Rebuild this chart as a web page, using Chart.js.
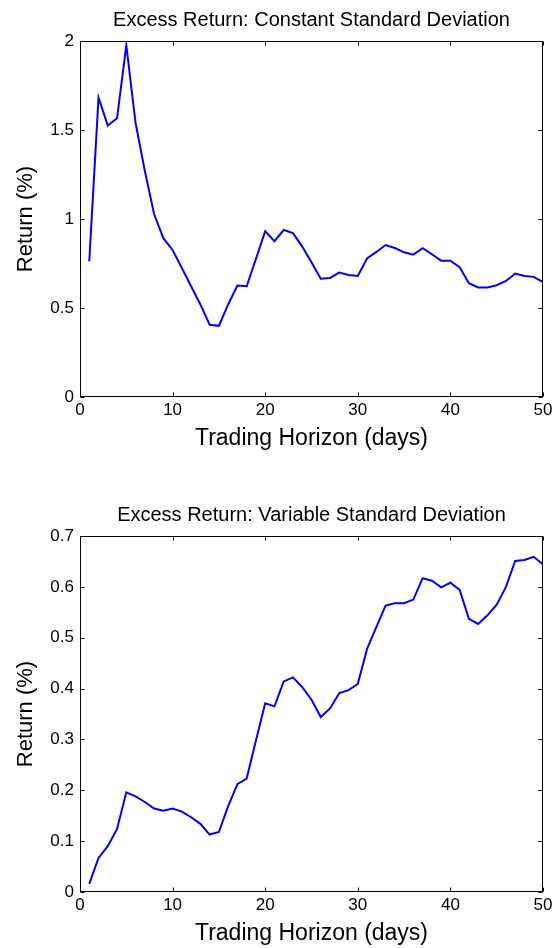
<!DOCTYPE html>
<html>
<head>
<meta charset="utf-8">
<script src="https://cdn.jsdelivr.net/npm/chart.js@4.4.1/dist/chart.umd.min.js"></script>
<style>
  html, body { margin: 0; padding: 0; background: #ffffff; }
  body { width: 556px; height: 948px; position: relative; overflow: hidden; }
  .box { position: absolute; left: 0; width: 556px; height: 453px; }
  #box1 { top: 0; }
  #box2 { top: 495px; }
</style>
</head>
<body>
<div class="box" id="box1"><canvas id="c1"></canvas></div>
<div class="box" id="box2"><canvas id="c2"></canvas></div>
<script>
// ---- data ----
const horizonDays = [1,2,3,4,5,6,7,8,9,10,11,12,13,14,15,16,17,18,19,20,21,22,23,24,25,
                     26,27,28,29,30,31,32,33,34,35,36,37,38,39,40,41,42,43,44,45,46,47,48,49,50];
const constantSD = [0.763,1.682,1.525,1.566,1.976,1.540,1.271,1.028,0.892,0.826,
                    0.725,0.622,0.520,0.406,0.400,0.520,0.626,0.622,0.776,0.931,
                    0.875,0.938,0.921,0.845,0.757,0.664,0.669,0.699,0.686,0.680,
                    0.778,0.815,0.854,0.837,0.813,0.800,0.836,0.802,0.766,0.766,
                    0.729,0.639,0.615,0.615,0.628,0.652,0.693,0.680,0.675,0.645];
const variableSD = [0.016,0.067,0.090,0.124,0.196,0.188,0.177,0.164,0.160,0.164,
                    0.158,0.147,0.134,0.113,0.118,0.169,0.212,0.223,0.298,0.371,
                    0.365,0.414,0.422,0.403,0.378,0.344,0.361,0.391,0.397,0.409,
                    0.478,0.521,0.563,0.568,0.568,0.575,0.617,0.612,0.599,0.608,
                    0.594,0.537,0.527,0.544,0.565,0.600,0.651,0.653,0.659,0.644];
const xTickValues = [0,10,20,30,40,50];
const yTicksTop = [0,0.5,1,1.5,2];
const yTicksBottom = [0,0.1,0.2,0.3,0.4,0.5,0.6,0.7];
const titleTop = 'Excess Return: Constant Standard Deviation';
const titleBottom = 'Excess Return: Variable Standard Deviation';
const xLabel = 'Trading Horizon (days)';
const yLabel = 'Return (%)';

// ---- drawing ----
const FONT = "'Liberation Sans', Arial, Helvetica, sans-serif";

const framePlugin = {
  id: 'frame',
  afterDatasetsDraw(chart) {
    const ctx = chart.ctx;
    const a = chart.chartArea;
    const xs = chart.scales.x, ys = chart.scales.y;
    ctx.save();
    ctx.strokeStyle = '#000000';
    ctx.lineWidth = 1;
    const L = Math.round(a.left) + 0.5, R = Math.round(a.right) - 0.5;
    const T = Math.round(a.top) + 0.5, B = Math.round(a.bottom) - 0.5;
    ctx.beginPath();
    xs.ticks.forEach(t => {
      const px = Math.round(xs.getPixelForValue(t.value)) + 0.5;
      ctx.moveTo(px, B); ctx.lineTo(px, B - 4);
      ctx.moveTo(px, T); ctx.lineTo(px, T + 4);
    });
    ys.ticks.forEach(t => {
      const py = Math.round(ys.getPixelForValue(t.value)) + 0.5;
      ctx.moveTo(L, py); ctx.lineTo(L + 4, py);
      ctx.moveTo(R, py); ctx.lineTo(R - 4, py);
    });
    ctx.stroke();
    ctx.strokeRect(L, T, R - L, B - T);
    ctx.restore();
  }
};

function makeChart(id, title, values, yTicks) {
  const points = horizonDays.map((d, i) => ({x: d, y: values[i]}));
  return new Chart(document.getElementById(id), {
    type: 'line',
    data: {
      datasets: [{
        data: points,
        borderColor: '#0000ff',
        borderWidth: 2,
        pointRadius: 0,
        tension: 0,
        fill: false
      }]
    },
    options: {
      responsive: true,
      maintainAspectRatio: false,
      animation: false,
      devicePixelRatio: 1,
      layout: { padding: { left: 0, right: 13, top: 0, bottom: 0 } },
      plugins: {
        legend: { display: false },
        tooltip: { enabled: false },
        title: {
          display: true,
          fullSize: false,
          text: title,
          color: '#000000',
          font: { family: FONT, size: 20, weight: 'normal', lineHeight: 1.2 },
          padding: { top: 8, bottom: 9 }
        }
      },
      scales: {
        x: {
          type: 'linear',
          min: xTickValues[0],
          max: xTickValues[xTickValues.length - 1],
          grid: { display: false, drawTicks: false },
          border: { display: false },
          afterBuildTicks: s => { s.ticks = xTickValues.map(v => ({value: v})); },
          afterFit: s => { s.height = 56; },
          ticks: {
            color: '#000000',
            padding: 3,
            maxRotation: 0,
            font: { family: FONT, size: 17 }
          },
          title: {
            display: true,
            text: xLabel,
            color: '#000000',
            font: { family: FONT, size: 23, lineHeight: 1.2 },
            padding: { top: 0, bottom: 1 }
          }
        },
        y: {
          type: 'linear',
          min: yTicks[0],
          max: yTicks[yTicks.length - 1],
          grid: { display: false, drawTicks: false },
          border: { display: false },
          afterBuildTicks: s => { s.ticks = yTicks.map(v => ({value: v})); },
          afterFit: s => { s.width = 80; },
          ticks: {
            color: '#000000',
            padding: 6,
            font: { family: FONT, size: 17 },
            callback: v => String(Math.round(v * 10) / 10)
          },
          title: {
            display: true,
            text: yLabel,
            color: '#000000',
            font: { family: FONT, size: 22, lineHeight: 1.2 },
            padding: { top: 12.5, bottom: 0 }
          }
        }
      }
    },
    plugins: [framePlugin]
  });
}

makeChart('c1', titleTop, constantSD, yTicksTop);
makeChart('c2', titleBottom, variableSD, yTicksBottom);
</script>
</body>
</html>
